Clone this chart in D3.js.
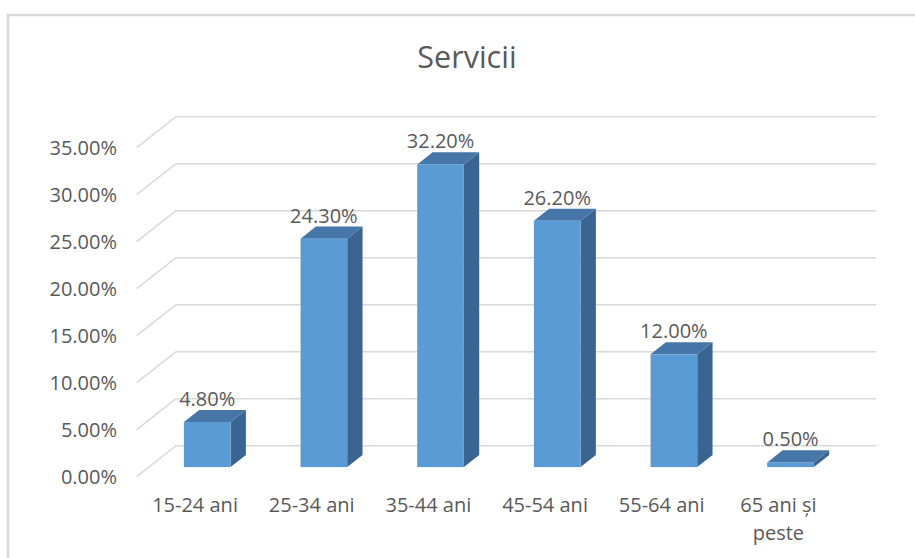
<!DOCTYPE html>
<html>
<head>
<meta charset="utf-8">
<script src="https://cdn.jsdelivr.net/npm/d3@7"></script>
<style>
  html, body { margin: 0; padding: 0; background: #ffffff; }
  svg { display: block; }
  text { font-family: "Open Sans", "Noto Sans", sans-serif; fill: #595959; }
</style>
</head>
<body>
<svg id="chart" width="915" height="558"></svg>
<script>
// Share of employment in services, by age group
const title = "Servicii";
const categories = ["15-24 ani", "25-34 ani", "35-44 ani", "45-54 ani", "55-64 ani", "65 ani și peste"];
const values = [4.8, 24.3, 32.2, 26.2, 12.0, 0.5];
const tickValues = [0, 5, 10, 15, 20, 25, 30, 35];

const W = 915, H = 558;
const svg = d3.select("#chart");

// Oblique 3D frame: front edge of the floor, plus the offset to the back wall
const floorLeft = 136.7, floorRight = 836.7, floorFront = 476.7;
const DX = 39.3, DY = 31;                  // full depth offset
const barDepth0 = 0.31, barDepthSpan = 0.39; // bar sits in the middle of the depth

const x = d3.scaleBand().domain(categories)
  .range([floorLeft, floorRight])
  .paddingInner(0.6).paddingOuter(0.3);
const xLabel = d3.scaleBand().domain(categories).range([floorLeft, floorRight]);
const y = d3.scaleLinear().domain([0, 35]).range([floorFront, floorFront - 329]);

const proj = (px, py, d) => [px + d * DX, py - d * DY];

// chart area border
svg.append("rect")
  .attr("x", 8).attr("y", 15).attr("width", 930).attr("height", 570)
  .attr("fill", "none").attr("stroke", "#d9d9d9").attr("stroke-width", 2.5);

// title
svg.append("text")
  .attr("x", 467).attr("y", 68)
  .attr("text-anchor", "middle")
  .style("font-size", "30.5px")
  .text(title);

// gridlines: floor diagonal then along the back wall
const grid = svg.append("g");
tickValues.forEach(t => {
  const yf = y(t);
  const [bx, by] = proj(floorLeft, yf, 1);
  const [ex] = proj(floorRight, yf, 1);
  grid.append("path")
    .attr("d", `M${floorLeft},${yf} L${bx},${by} L${ex},${by}`)
    .attr("fill", "none").attr("stroke", "#d9d9d9").attr("stroke-width", 1.6);
});

// value axis labels
const fmt = d => d3.format(".2f")(d) + "%";
svg.append("g").selectAll("text").data(tickValues).join("text")
  .attr("x", 117).attr("y", d => y(d))
  .attr("dy", "0.36em")
  .attr("text-anchor", "end")
  .style("font-size", "20px")
  .text(fmt);

// bars
const bars = svg.append("g");
categories.forEach((c, i) => {
  const v = values[i];
  const x0 = x(c), x1 = x(c) + x.bandwidth();
  const yb = y(0), yt = y(v);
  const d0 = barDepth0, d1 = barDepth0 + barDepthSpan;
  const P = (px, py, d) => proj(px, py, d).join(",");

  // right side face
  bars.append("path")
    .attr("d", `M${P(x1, yt, d0)} L${P(x1, yt, d1)} L${P(x1, yb, d1)} L${P(x1, yb, d0)} Z`)
    .attr("fill", "#3A6591");
  // top face
  bars.append("path")
    .attr("d", `M${P(x0, yt, d0)} L${P(x0, yt, d1)} L${P(x1, yt, d1)} L${P(x1, yt, d0)} Z`)
    .attr("fill", "#4676A8");
  // front face
  const [fx0, fyt] = proj(x0, yt, d0);
  const [fx1, fyb] = proj(x1, yb, d0);
  bars.append("rect")
    .attr("x", fx0).attr("y", fyt)
    .attr("width", fx1 - fx0).attr("height", fyb - fyt)
    .attr("fill", "#5B9BD5");

  // data label above the bar
  const [, backTop] = proj(x0, yt, d1);
  bars.append("text")
    .attr("x", (fx0 + fx1) / 2).attr("y", backTop - 4)
    .attr("text-anchor", "middle")
    .style("font-size", "20px")
    .text(fmt(v));
});

// category labels, wrapped to the category width
const catG = svg.append("g");
categories.forEach(c => {
  const cx = xLabel(c) + xLabel.bandwidth() / 2;
  const t = catG.append("text")
    .attr("x", cx).attr("y", 512)
    .attr("text-anchor", "middle")
    .style("font-size", "20px");
  const words = c.split(" ");
  let line = [];
  let lineNo = 0;
  let tspan = t.append("tspan").attr("x", cx).attr("y", 512);
  words.forEach(w => {
    line.push(w);
    tspan.text(line.join(" "));
    if (tspan.node().getComputedTextLength() > 100 && line.length > 1) {
      line.pop();
      tspan.text(line.join(" "));
      line = [w];
      lineNo++;
      tspan = t.append("tspan").attr("x", cx).attr("y", 512 + lineNo * 28).text(w);
    }
  });
});
</script>
</body>
</html>
